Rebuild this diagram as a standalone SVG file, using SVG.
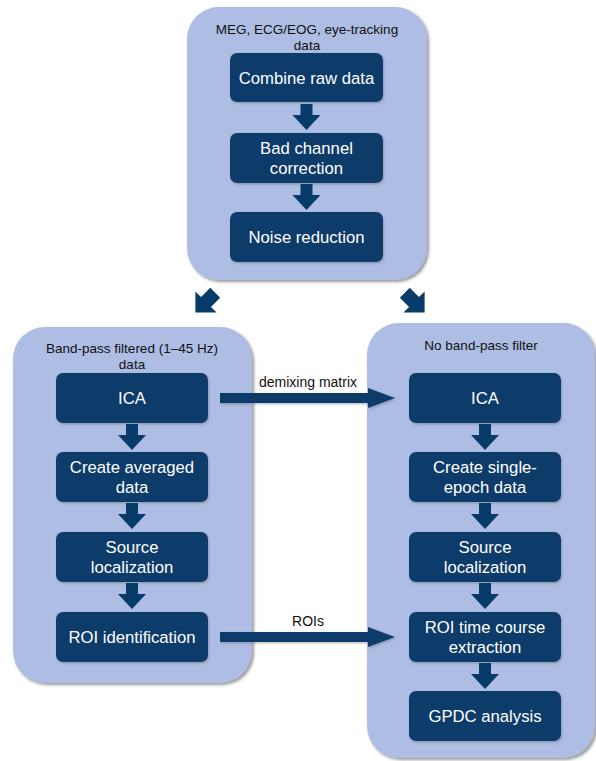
<svg xmlns="http://www.w3.org/2000/svg" xmlns:xlink="http://www.w3.org/1999/xlink" width="596" height="761" viewBox="0 0 596 761">
<style>
.cont{fill:#adbde3;filter:url(#sh);}
.box{fill:#073b6a;filter:url(#sh2);}
.arr{fill:#073b6a;}
.harr{fill:#073b6a;filter:url(#sh2);}
.hdr{font-family:"Liberation Sans",Arial,sans-serif;font-size:13.5px;fill:#111;text-anchor:middle;}
.bt{font-family:"Liberation Sans",Arial,sans-serif;font-size:16.7px;fill:#fff;text-anchor:middle;}
.lbl{font-family:"Liberation Sans",Arial,sans-serif;font-size:14px;fill:#111;text-anchor:middle;}
</style>
<defs>
<filter id="sh" x="-10%" y="-10%" width="120%" height="120%">
<feDropShadow dx="2" dy="2" stdDeviation="1.5" flood-color="#555" flood-opacity="0.6"/>
</filter>
<filter id="sh2" x="-10%" y="-20%" width="120%" height="150%">
<feDropShadow dx="1" dy="1.5" stdDeviation="1" flood-color="#555" flood-opacity="0.35"/>
</filter>
<path id="down" d="M-6,1 H6 V12 H14 L0,27 L-14,12 H-6 Z"/>
<path id="diag" d="M-7,-13 H7 V0 H15 L0,15 L-15,0 H-7 Z"/>
</defs>

<g id="top-stage">
<rect class="cont" x="187" y="7" width="240" height="273" rx="32"/>
<text class="hdr" x="307" y="34">MEG, ECG/EOG, eye-tracking</text>
<text class="hdr" x="307" y="49.5">data</text>
</g>
<g id="combine"><rect class="box" x="230" y="53" width="153" height="49" rx="7"/><text class="bt" x="306.5" y="83.5">Combine raw data</text></g>
<g id="badchannel"><rect class="box" x="230" y="133" width="153" height="50" rx="7"/><text class="bt" x="306.5" y="154.25">Bad channel</text><text class="bt" x="306.5" y="173.75">correction</text></g>
<g id="noise"><rect class="box" x="230" y="212" width="153" height="50" rx="7"/><text class="bt" x="306.5" y="243">Noise reduction</text></g>

<g id="left-stage">
<rect class="cont" x="13" y="327" width="239" height="356" rx="32"/>
<text class="hdr" x="132" y="353">Band-pass filtered (1–45 Hz)</text>
<text class="hdr" x="132" y="368.5">data</text>
</g>
<g id="ica-left"><rect class="box" x="56" y="373" width="152" height="50" rx="7"/><text class="bt" x="132" y="404">ICA</text></g>
<g id="averaged"><rect class="box" x="56" y="452" width="152" height="50" rx="7"/><text class="bt" x="132" y="473.25">Create averaged</text><text class="bt" x="132" y="492.75">data</text></g>
<g id="source-left"><rect class="box" x="56" y="532" width="152" height="50" rx="7"/><text class="bt" x="132" y="553.25">Source</text><text class="bt" x="132" y="572.75">localization</text></g>
<g id="roi-id"><rect class="box" x="56" y="612" width="152" height="50" rx="7"/><text class="bt" x="132" y="643">ROI identification</text></g>

<g id="right-stage">
<rect class="cont" x="367" y="323" width="228" height="435" rx="32"/>
<text class="hdr" x="481" y="350">No band-pass filter</text>
</g>
<g id="ica-right"><rect class="box" x="409" y="373" width="152" height="50" rx="7"/><text class="bt" x="485" y="404">ICA</text></g>
<g id="single-epoch"><rect class="box" x="409" y="452" width="152" height="50" rx="7"/><text class="bt" x="485" y="473.25">Create single-</text><text class="bt" x="485" y="492.75">epoch data</text></g>
<g id="source-right"><rect class="box" x="409" y="532" width="152" height="50" rx="7"/><text class="bt" x="485" y="553.25">Source</text><text class="bt" x="485" y="572.75">localization</text></g>
<g id="roi-tc"><rect class="box" x="409" y="612" width="152" height="50" rx="7"/><text class="bt" x="485" y="633.25">ROI time course</text><text class="bt" x="485" y="652.75">extraction</text></g>
<g id="gpdc"><rect class="box" x="409" y="691" width="152" height="50" rx="7"/><text class="bt" x="485" y="722">GPDC analysis</text></g>

<g id="connectors">
<use class="arr" xlink:href="#down" transform="translate(306.5,103)"/>
<use class="arr" xlink:href="#down" transform="translate(306.5,183)"/>
<use class="arr" xlink:href="#diag" transform="translate(206,302) rotate(45)"/>
<use class="arr" xlink:href="#diag" transform="translate(414,302) rotate(-45)"/>
<use class="arr" xlink:href="#down" transform="translate(132,423)"/>
<use class="arr" xlink:href="#down" transform="translate(132,502)"/>
<use class="arr" xlink:href="#down" transform="translate(132,582)"/>
<use class="arr" xlink:href="#down" transform="translate(485,423)"/>
<use class="arr" xlink:href="#down" transform="translate(485,502)"/>
<use class="arr" xlink:href="#down" transform="translate(485,582)"/>
<use class="arr" xlink:href="#down" transform="translate(485,662)"/>
<path class="harr" d="M220,393 H368 V388 L395,398 L368,408 V403 H220 Z"/>
<text class="lbl" x="308" y="387">demixing matrix</text>
<path class="harr" d="M220,632 H368 V627 L395,637 L368,647 V642 H220 Z"/>
<text class="lbl" x="308" y="626">ROIs</text>
</g>
</svg>
